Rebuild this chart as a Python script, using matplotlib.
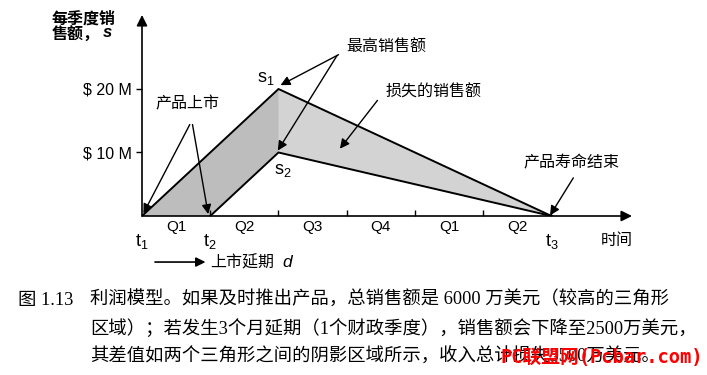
import matplotlib
matplotlib.use('Agg')

import matplotlib.pyplot as plt

# Data: quarters on the time axis, sales in $M per quarter
quarters = ['Q1', 'Q2', 'Q3', 'Q4', 'Q1', 'Q2']
onTimeT = [0, 2, 6]
onTimeS = [0, 20, 0]
lateT = [1, 2, 6]
lateS = [0, 10, 0]
yTicks = [10, 20]
yTickLabels = ['$ 10 M', '$ 20 M']
timeLabels = [(0, '1'), (1, '2'), (6, '3')]

caption1 = '利润模型。如果及时推出产品，总销售额是 6000 万美元（较高的三角形'
caption2 = '区域）；若发生3个月延期（1个财政季度），销售额会下降至2500万美元，'
caption3 = '其差值如两个三角形之间的阴影区域所示，收入总计损失3500万美元。'

CJK = ['Liberation Sans', 'Noto Sans CJK SC']
SERIF = ['Liberation Serif', 'Noto Sans CJK SC']
plt.rcParams['font.family'] = CJK
plt.rcParams['mathtext.fontset'] = 'custom'
plt.rcParams['mathtext.rm'] = 'Liberation Sans'
plt.rcParams['mathtext.it'] = 'Liberation Sans:italic'

W, H = 707, 375
fig = plt.figure(figsize=(W / 100, H / 100), dpi=100)
ax = fig.add_axes([142 / W, (H - 216) / H, (632 - 142) / W, (216 - 15) / H])
ax.set_xlim(0, 7.18)
ax.set_ylim(0, 31.65)
for sp in ax.spines.values():
    sp.set_visible(False)

# Shaded lost-sales region
ax.fill(onTimeT, onTimeS, color='#d3d3d3', lw=0)
ax.fill([onTimeT[0], lateT[0], lateT[1], onTimeT[1]],
        [onTimeS[0], lateS[0], lateS[1], onTimeS[1]], color='#bdbdbd', lw=0)
ax.fill(lateT, lateS, color='white', lw=0)
ax.plot(onTimeT, onTimeS, color='k', lw=1.4)
ax.plot(lateT, lateS, color='k', lw=1.4)

# Axes with arrows
arrowKw = dict(arrowstyle='-|>', color='k', lw=1.2, mutation_scale=16, shrinkA=0, shrinkB=0)
ax.annotate('', xy=(7.18, 0), xytext=(0, 0), arrowprops=arrowKw, annotation_clip=False)
ax.annotate('', xy=(0, 31.65), xytext=(0, 0), arrowprops=arrowKw, annotation_clip=False)

ax.set_xticks(range(1, 7))
ax.set_xticklabels([])
ax.tick_params(axis='x', direction='in', length=4, width=1)
ax.set_yticks(yTicks)
ax.set_yticklabels(yTickLabels, fontsize=11.5)
ax.tick_params(axis='y', direction='out', length=4, width=1, pad=3)

for i, q in enumerate(quarters):
    ax.text(i + 0.5, -1.75, q, ha='center', va='center', fontsize=11, clip_on=False)
for x, n in timeLabels:
    ax.text(x, -4.0, r'$\mathrm{t}_{' + n + '}$', ha='center', va='center', fontsize=13, clip_on=False)
ax.text(6.95, -3.9, '时间', ha='center', va='center', fontsize=11.5, clip_on=False)

# Y axis title
ax.text(-1.32, 32.2, '每季度销\n售额，', ha='left', va='top', fontsize=11.5,
        fontweight='bold', linespacing=1.0, clip_on=False)
ax.text(-0.5, 28.9, 's', ha='center', va='center', fontsize=12, fontweight='bold',
        fontstyle='italic', clip_on=False)

# Delay arrow
ax.annotate('', xy=(0.93, -7.25), xytext=(0.19, -7.25), arrowprops=dict(arrowstyle='-|>', color='k', lw=1.2,
            mutation_scale=14, shrinkA=0, shrinkB=0), annotation_clip=False)
ax.text(1.0, -7.35, '上市延期', ha='left', va='center', fontsize=11.5, clip_on=False)
ax.text(2.13, -7.3, 'd', ha='center', va='center', fontsize=12.5, fontstyle='italic', clip_on=False)

# Annotations
pointKw = dict(arrowstyle='-|>', color='k', lw=1.0, mutation_scale=14, shrinkA=0, shrinkB=0)
ax.text(3.58, 26.6, '最高销售额', ha='center', va='center', fontsize=11.5)
ax.annotate('', xy=(2.03, 20.6), xytext=(2.88, 25.4), arrowprops=pointKw)
ax.annotate('', xy=(1.99, 10.3), xytext=(2.86, 25.3), arrowprops=pointKw)
ax.text(1.82, 21.7, r'$\mathrm{s}_1$', ha='center', va='center', fontsize=13)
ax.text(2.07, 7.2, r'$\mathrm{s}_2$', ha='center', va='center', fontsize=13)

ax.text(4.27, 19.5, '损失的销售额', ha='center', va='center', fontsize=11.5)
ax.annotate('', xy=(2.9, 10.6), xytext=(3.45, 18.2), arrowprops=pointKw)

ax.text(0.67, 17.6, '产品上市', ha='center', va='center', fontsize=11.5)
ax.annotate('', xy=(0.02, 0.4), xytext=(0.70, 14.4), arrowprops=pointKw, annotation_clip=False)
ax.annotate('', xy=(0.97, 0.3), xytext=(0.74, 14.4), arrowprops=pointKw, annotation_clip=False)

ax.text(6.3, 8.3, '产品寿命结束', ha='center', va='center', fontsize=11.5)
ax.annotate('', xy=(5.98, 0.1), xytext=(6.32, 6.0), arrowprops=pointKw)

# Caption
capSize = 13.2
fig.text(18 / W, 1 - 300 / H, '图 1.13', ha='left', va='center', fontsize=capSize, family=SERIF)
fig.text(90 / W, 1 - 300 / H, caption1, ha='left', va='center', fontsize=capSize, family=SERIF)
fig.text(90 / W, 1 - 328.5 / H, caption2, ha='left', va='center', fontsize=capSize, family=SERIF)
fig.text(90 / W, 1 - 357 / H, caption3, ha='left', va='center', fontsize=capSize, family=SERIF)
fig.text(703 / W, 1 - 358 / H, 'PC联盟网(Pcbar.com)', ha='right', va='center', fontsize=13.5,
         color='#ff0000', fontweight='bold', family=['DejaVu Sans Mono', 'Noto Sans CJK SC'])

plt.savefig('out.png', dpi=100)
